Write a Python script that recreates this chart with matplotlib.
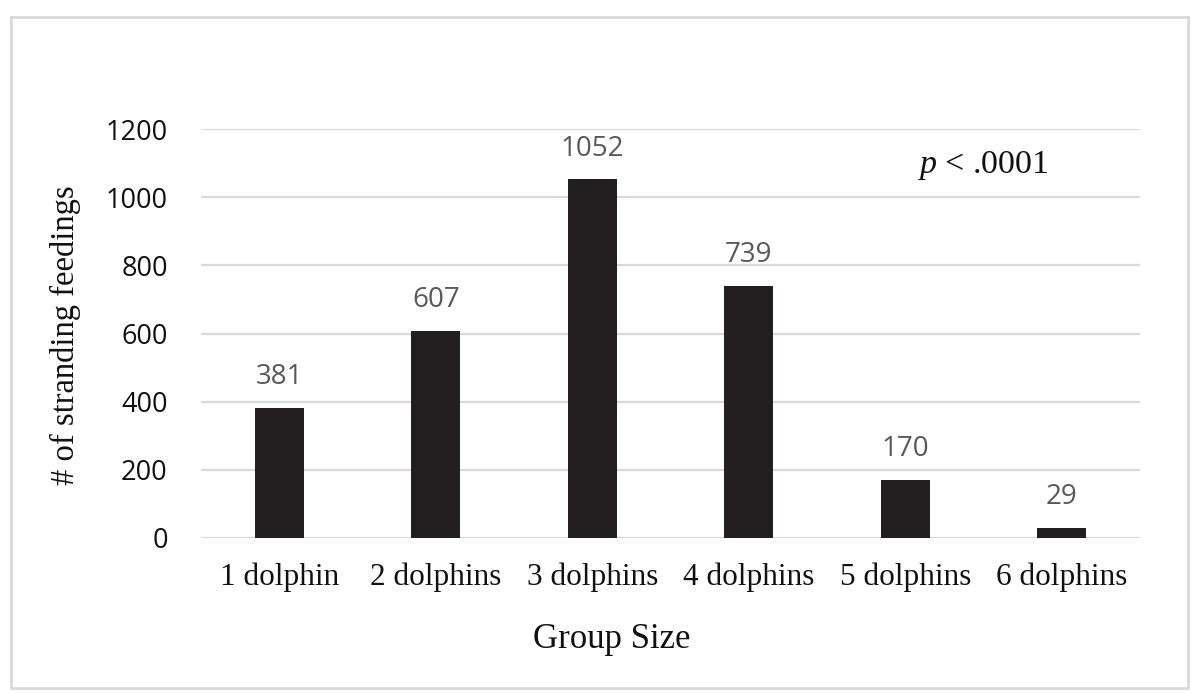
import matplotlib
matplotlib.use("Agg")
import matplotlib.pyplot as plt
from matplotlib.patches import Rectangle

plt.rcParams["mathtext.fontset"] = "custom"
plt.rcParams["mathtext.it"] = "Liberation Serif:italic"
plt.rcParams["mathtext.rm"] = "Liberation Serif"

categories = ["1 dolphin", "2 dolphins", "3 dolphins", "4 dolphins", "5 dolphins", "6 dolphins"]
values = [381, 607, 1052, 739, 170, 29]
yticks = [0, 200, 400, 600, 800, 1000, 1200]

fig = plt.figure(figsize=(12, 6.93), dpi=100)
fig.patches.append(Rectangle((11/1200, 1 - 688/693), (1188-11)/1200, (688-17)/693,
                             transform=fig.transFigure, fill=False,
                             edgecolor="#d9d9d9", linewidth=2, zorder=0))

ax = fig.add_axes([201/1200, 1 - 538/693, (1140-201)/1200, (538-129)/693])
x = list(range(len(categories)))
bars = ax.bar(x, values, width=0.31, color="#231f20", zorder=3)
ax.set_xlim(-0.5, len(categories) - 0.5)
ax.set_ylim(0, 1200)
ax.set_yticks(yticks)
ax.set_yticklabels([str(t) for t in yticks], fontfamily="Open Sans", fontsize=19.5, color="#111111")
ax.set_xticks(x)
ax.set_xticklabels(categories, fontfamily="Liberation Serif", fontsize=22.5, color="#111111")
ax.tick_params(axis="y", length=0, pad=24)
ax.tick_params(axis="x", length=0, pad=18)
ax.grid(axis="y", color="#d9d9d9", linewidth=1.6, zorder=0)
for s in ax.spines.values():
    s.set_visible(False)

for xi, v in zip(x, values):
    ax.annotate(str(v), (xi, v), xytext=(0, 12), textcoords="offset points",
                ha="center", va="bottom", fontfamily="Open Sans", fontsize=20, color="#595959")

fig.text(65/1200, 1 - 335/693, "# of stranding feedings", rotation=90, ha="center", va="center",
         fontfamily="Liberation Serif", fontsize=23.5, color="#111111")
fig.text(612/1200, 1 - 640/693, "Group Size", ha="center", va="center",
         fontfamily="Liberation Serif", fontsize=25, color="#111111")
fig.text(983/1200, 1 - 166/693, r"$p$ < .0001", ha="center", va="center",
         fontfamily="Liberation Serif", fontsize=24.5, color="#111111")

fig.savefig("out.png", dpi=100)
